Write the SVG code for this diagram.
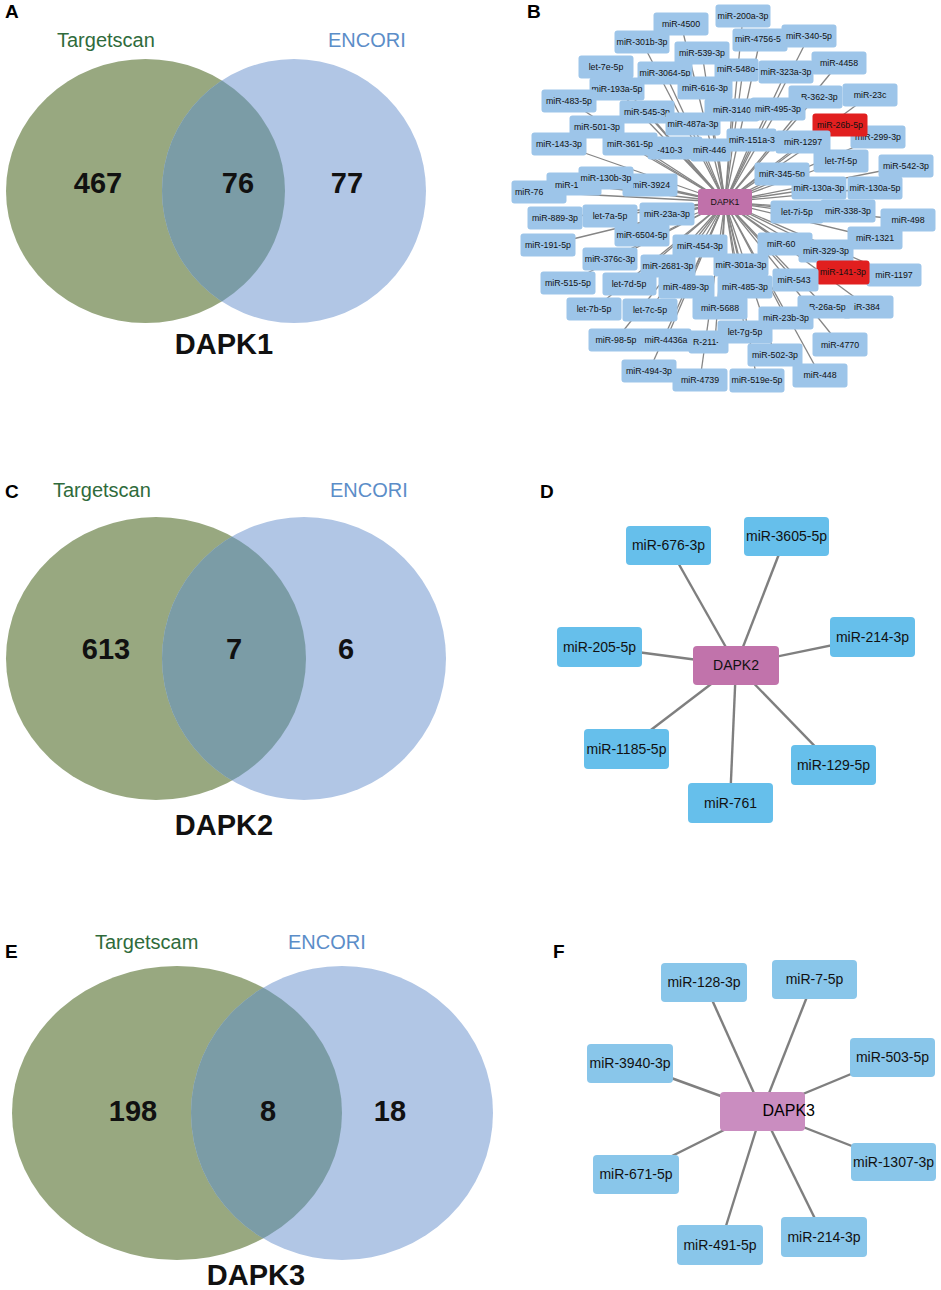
<svg xmlns="http://www.w3.org/2000/svg" width="941" height="1290" viewBox="0 0 941 1290">
<style>
text{font-family:"Liberation Sans",Arial,sans-serif}
.lbl{font-size:19px;font-weight:bold;fill:#000}
.ts{font-size:20px;fill:#2F6B3B}
.en{font-size:20px;fill:#5B8DC8}
.num{font-size:29px;font-weight:bold;fill:#111;text-anchor:middle}
.vl{fill:#98A880}
.vr{fill:#B1C6E5}
.vi{fill:#7B9CA6}
.bn rect{fill:#9DC5E9}
.bn text{font-size:8.8px;fill:#111;text-anchor:middle}
.bn text.s{text-anchor:start}
.bn.red rect{fill:#E11F1F}
.hub rect{fill:#C071AA}
.hub text{font-size:8.8px;fill:#111;text-anchor:middle}
.be line{stroke:#858585;stroke-width:1.3}
.de line{stroke:#7F7F7F;stroke-width:2.4}
.dn rect{fill:#66BFEB}
.fn rect{fill:#89C6EA}
.dn text,.fn text,.h2 text{font-size:14px;fill:#111;text-anchor:middle}
.h2 rect{fill:#C173AB}
.h3 rect{fill:#CA8DC0}
</style>
<defs>
<clipPath id="cA"><ellipse cx="145.5" cy="191" rx="139.5" ry="132"/></clipPath>
<clipPath id="cC"><ellipse cx="156" cy="658.5" rx="150" ry="141.5"/></clipPath>
<clipPath id="cE"><ellipse cx="177" cy="1113" rx="165" ry="147"/></clipPath>
</defs>

<!-- Panel A -->
<g id="vennA">
<text class="lbl" x="5" y="18">A</text>
<text class="ts" x="57" y="47">Targetscan</text>
<text class="en" x="328" y="47">ENCORI</text>
<ellipse class="vl" cx="145.5" cy="191" rx="139.5" ry="132"/>
<ellipse class="vr" cx="294" cy="191" rx="132" ry="132"/>
<ellipse class="vi" cx="294" cy="191" rx="132" ry="132" clip-path="url(#cA)"/>
<text class="num" x="98" y="193">467</text>
<text class="num" x="238" y="193">76</text>
<text class="num" x="347" y="193">77</text>
<text class="num" x="224" y="354">DAPK1</text>
</g>

<!-- Panel C -->
<g id="vennC">
<text class="lbl" x="5" y="498">C</text>
<text class="ts" x="53" y="497">Targetscan</text>
<text class="en" x="330" y="497">ENCORI</text>
<ellipse class="vl" cx="156" cy="658.5" rx="150" ry="141.5"/>
<ellipse class="vr" cx="304" cy="658.5" rx="142" ry="141.5"/>
<ellipse class="vi" cx="304" cy="658.5" rx="142" ry="141.5" clip-path="url(#cC)"/>
<text class="num" x="106" y="659">613</text>
<text class="num" x="234" y="659">7</text>
<text class="num" x="346" y="659">6</text>
<text class="num" x="224" y="835">DAPK2</text>
</g>

<!-- Panel E -->
<g id="vennE">
<text class="lbl" x="5" y="958">E</text>
<text class="ts" x="95" y="949">Targetscam</text>
<text class="en" x="288" y="949">ENCORI</text>
<ellipse class="vl" cx="177" cy="1113" rx="165" ry="147"/>
<ellipse class="vr" cx="342" cy="1113" rx="151" ry="147"/>
<ellipse class="vi" cx="342" cy="1113" rx="151" ry="147" clip-path="url(#cE)"/>
<text class="num" x="133" y="1121">198</text>
<text class="num" x="268" y="1121">8</text>
<text class="num" x="390" y="1121">18</text>
<text class="num" x="256" y="1285">DAPK3</text>
</g>

<!-- Panel B -->
<text class="lbl" x="527" y="18">B</text>
<g id="edgesB" class="be">
<line x1="725" y1="202" x2="681" y2="24"/><line x1="725" y1="202" x2="743" y2="16"/><line x1="725" y1="202" x2="642" y2="42"/><line x1="725" y1="202" x2="702" y2="53"/>
<line x1="725" y1="202" x2="760" y2="40"/><line x1="725" y1="202" x2="809" y2="36"/><line x1="725" y1="202" x2="606" y2="67"/><line x1="725" y1="202" x2="665" y2="73"/>
<line x1="725" y1="202" x2="743" y2="70"/><line x1="725" y1="202" x2="786" y2="72"/><line x1="725" y1="202" x2="839" y2="63"/><line x1="725" y1="202" x2="617" y2="89"/>
<line x1="725" y1="202" x2="705" y2="88"/><line x1="725" y1="202" x2="816" y2="97"/><line x1="725" y1="202" x2="870" y2="95"/><line x1="725" y1="202" x2="569" y2="101"/>
<line x1="725" y1="202" x2="647" y2="112"/><line x1="725" y1="202" x2="732" y2="110"/><line x1="725" y1="202" x2="778" y2="109"/><line x1="725" y1="202" x2="693" y2="124"/>
<line x1="725" y1="202" x2="597" y2="127"/><line x1="725" y1="202" x2="840" y2="125"/><line x1="725" y1="202" x2="559" y2="144"/><line x1="725" y1="202" x2="630" y2="144"/>
<line x1="725" y1="202" x2="675" y2="148"/><line x1="725" y1="202" x2="718" y2="150"/><line x1="725" y1="202" x2="752" y2="139"/><line x1="725" y1="202" x2="803" y2="142"/>
<line x1="725" y1="202" x2="878" y2="137"/><line x1="725" y1="202" x2="841" y2="161"/><line x1="725" y1="202" x2="906" y2="166"/><line x1="725" y1="202" x2="782" y2="174"/>
<line x1="725" y1="202" x2="539" y2="192"/><line x1="725" y1="202" x2="574" y2="184"/><line x1="725" y1="202" x2="606" y2="178"/><line x1="725" y1="202" x2="650" y2="185"/>
<line x1="725" y1="202" x2="819" y2="188"/><line x1="725" y1="202" x2="875" y2="188"/><line x1="725" y1="202" x2="555" y2="218"/><line x1="725" y1="202" x2="610" y2="216"/>
<line x1="725" y1="202" x2="667" y2="214"/><line x1="725" y1="202" x2="797" y2="212"/><line x1="725" y1="202" x2="848" y2="211"/><line x1="725" y1="202" x2="908" y2="220"/>
<line x1="725" y1="202" x2="548" y2="245"/><line x1="725" y1="202" x2="642" y2="235"/><line x1="725" y1="202" x2="700" y2="246"/><line x1="725" y1="202" x2="785" y2="244"/>
<line x1="725" y1="202" x2="875" y2="238"/><line x1="725" y1="202" x2="826" y2="251"/><line x1="725" y1="202" x2="610" y2="259"/><line x1="725" y1="202" x2="668" y2="266"/>
<line x1="725" y1="202" x2="741" y2="265"/><line x1="725" y1="202" x2="843" y2="272"/><line x1="725" y1="202" x2="894" y2="275"/><line x1="725" y1="202" x2="795" y2="280"/>
<line x1="725" y1="202" x2="568" y2="283"/><line x1="725" y1="202" x2="629" y2="284"/><line x1="725" y1="202" x2="686" y2="287"/><line x1="725" y1="202" x2="745" y2="287"/>
<line x1="725" y1="202" x2="594" y2="309"/><line x1="725" y1="202" x2="650" y2="310"/><line x1="725" y1="202" x2="720" y2="308"/><line x1="725" y1="202" x2="786" y2="318"/>
<line x1="725" y1="202" x2="825" y2="307"/><line x1="725" y1="202" x2="868" y2="307"/><line x1="725" y1="202" x2="616" y2="340"/><line x1="725" y1="202" x2="666" y2="340"/>
<line x1="725" y1="202" x2="715" y2="342"/><line x1="725" y1="202" x2="745" y2="332"/><line x1="725" y1="202" x2="840" y2="345"/><line x1="725" y1="202" x2="775" y2="355"/>
<line x1="725" y1="202" x2="649" y2="371"/><line x1="725" y1="202" x2="700" y2="380"/><line x1="725" y1="202" x2="757" y2="380"/><line x1="725" y1="202" x2="820" y2="375"/>
</g>
<g id="nodesB">
<g id="b1" class="bn"><rect x="653.5" y="12.5" width="55" height="23" rx="3"/><text x="681" y="27">miR-4500</text></g>
<g id="b2" class="bn"><rect x="715.5" y="4.5" width="55" height="23" rx="3"/><text x="743" y="19">miR-200a-3p</text></g>
<g id="b3" class="bn"><rect x="614.5" y="30.5" width="55" height="23" rx="3"/><text x="642" y="45">miR-301b-3p</text></g>
<g id="b4" class="bn"><rect x="674.5" y="41.5" width="55" height="23" rx="3"/><text x="702" y="56">miR-539-3p</text></g>
<g id="b5" class="bn"><rect x="732.5" y="28.5" width="55" height="23" rx="3"/><text class="s" x="735" y="42">miR-4756-5</text></g>
<g id="b6" class="bn"><rect x="781.5" y="24.5" width="55" height="23" rx="3"/><text x="809" y="39">miR-340-5p</text></g>
<g id="b7" class="bn"><rect x="578.5" y="55.5" width="55" height="23" rx="3"/><text x="606" y="70">let-7e-5p</text></g>
<g id="b8" class="bn"><rect x="637.5" y="61.5" width="55" height="23" rx="3"/><text x="665" y="76">miR-3064-5p</text></g>
<g id="b11" class="bn"><rect x="811.5" y="51.5" width="55" height="23" rx="3"/><text x="839" y="66">miR-4458</text></g>
<g id="b10" class="bn"><rect x="758.5" y="60.5" width="55" height="23" rx="3"/><text x="786" y="75">miR-323a-3p</text></g>
<g id="b9" class="bn"><rect x="714.5" y="58.5" width="44" height="23" rx="3"/><text class="s" x="717" y="72">miR-548o-</text></g>
<g id="b12" class="bn"><rect x="589.5" y="77.5" width="55" height="23" rx="3"/><text x="617" y="92">miR-193a-5p</text></g>
<g id="b13" class="bn"><rect x="677.5" y="76.5" width="55" height="23" rx="3"/><text x="705" y="91">miR-616-3p</text></g>
<g id="b15" class="bn"><rect x="842.5" y="83.5" width="55" height="23" rx="3"/><text x="870" y="98">miR-23c</text></g>
<g id="b14" class="bn"><rect x="788.5" y="85.5" width="54" height="23" rx="3"/><text class="s" x="801" y="100">R-362-3p</text></g>
<g id="b16" class="bn"><rect x="541.5" y="89.5" width="55" height="23" rx="3"/><text x="569" y="104">miR-483-5p</text></g>
<g id="b17" class="bn"><rect x="619.5" y="100.5" width="55" height="23" rx="3"/><text x="647" y="115">miR-545-3p</text></g>
<g id="b18" class="bn"><rect x="704.5" y="98.5" width="55" height="23" rx="3"/><text x="732" y="113">miR-3140</text></g>
<g id="b19" class="bn"><rect x="750.5" y="97.5" width="55" height="23" rx="3"/><text x="778" y="112">miR-495-3p</text></g>
<g id="b20" class="bn"><rect x="665.5" y="112.5" width="55" height="23" rx="3"/><text x="693" y="127">miR-487a-3p</text></g>
<g id="b21" class="bn"><rect x="569.5" y="115.5" width="55" height="23" rx="3"/><text x="597" y="130">miR-501-3p</text></g>
<g id="b29" class="bn"><rect x="850.5" y="125.5" width="55" height="23" rx="3"/><text x="878" y="140">miR-299-3p</text></g>
<g id="b22" class="bn red"><rect x="812.5" y="113.5" width="55" height="23" rx="3"/><text x="840" y="128">miR-26b-5p</text></g>
<g id="b23" class="bn"><rect x="531.5" y="132.5" width="55" height="23" rx="3"/><text x="559" y="147">miR-143-3p</text></g>
<g id="b25" class="bn"><rect x="647.5" y="136.5" width="55" height="23" rx="3"/><text class="s" x="657" y="153">-410-3</text></g>
<g id="b24" class="bn"><rect x="602.5" y="132.5" width="55" height="23" rx="3"/><text x="630" y="147">miR-361-5p</text></g>
<g id="b26" class="bn"><rect x="690.5" y="138.5" width="40" height="23" rx="3"/><text class="s" x="693" y="153">miR-446</text></g>
<g id="b28" class="bn"><rect x="775.5" y="130.5" width="55" height="23" rx="3"/><text x="803" y="145">miR-1297</text></g>
<g id="b27" class="bn"><rect x="726.5" y="128.5" width="50" height="23" rx="3"/><text class="s" x="729" y="143">miR-151a-3</text></g>
<g id="b30" class="bn"><rect x="813.5" y="149.5" width="55" height="23" rx="3"/><text x="841" y="164">let-7f-5p</text></g>
<g id="b31" class="bn"><rect x="878.5" y="154.5" width="55" height="23" rx="3"/><text x="906" y="169">miR-542-3p</text></g>
<g id="b32" class="bn"><rect x="754.5" y="162.5" width="55" height="23" rx="3"/><text x="782" y="177">miR-345-5p</text></g>
<g id="b33" class="bn"><rect x="511.5" y="180.5" width="55" height="23" rx="3"/><text class="s" x="515" y="195">miR-76</text></g>
<g id="b34" class="bn"><rect x="546.5" y="172.5" width="55" height="23" rx="3"/><text class="s" x="555" y="188">miR-1</text></g>
<g id="b36" class="bn"><rect x="622.5" y="173.5" width="55" height="23" rx="3"/><text x="651" y="188">miR-3924</text></g>
<g id="b35" class="bn"><rect x="578.5" y="166.5" width="55" height="23" rx="3"/><text x="606" y="181">miR-130b-3p</text></g>
<g id="b39" class="bn"><rect x="847.5" y="176.5" width="55" height="23" rx="3"/><text x="875" y="191">miR-130a-5p</text></g>
<g id="b38" class="bn"><rect x="791.5" y="176.5" width="55" height="23" rx="3"/><text x="819" y="191">miR-130a-3p</text></g>
<g id="DAPK1" class="hub"><rect x="698" y="189" width="54" height="26" rx="3"/><text x="725" y="205">DAPK1</text></g>
<g id="b40" class="bn"><rect x="527.5" y="206.5" width="55" height="23" rx="3"/><text x="555" y="221">miR-889-3p</text></g>
<g id="b41" class="bn"><rect x="582.5" y="204.5" width="55" height="23" rx="3"/><text x="610" y="219">let-7a-5p</text></g>
<g id="b42" class="bn"><rect x="639.5" y="202.5" width="55" height="23" rx="3"/><text x="667" y="217">miR-23a-3p</text></g>
<g id="b45" class="bn"><rect x="880.5" y="208.5" width="55" height="23" rx="3"/><text x="908" y="223">miR-498</text></g>
<g id="b44" class="bn"><rect x="820.5" y="199.5" width="55" height="23" rx="3"/><text x="848" y="214">miR-338-3p</text></g>
<g id="b43" class="bn"><rect x="770.5" y="200.5" width="53" height="23" rx="3"/><text x="797" y="215">let-7i-5p</text></g>
<g id="b46" class="bn"><rect x="520.5" y="233.5" width="55" height="23" rx="3"/><text x="548" y="248">miR-191-5p</text></g>
<g id="b47" class="bn"><rect x="614.5" y="223.5" width="55" height="23" rx="3"/><text x="642" y="238">miR-6504-5p</text></g>
<g id="b48" class="bn"><rect x="672.5" y="234.5" width="55" height="23" rx="3"/><text x="700" y="249">miR-454-3p</text></g>
<g id="b50" class="bn"><rect x="847.5" y="226.5" width="55" height="23" rx="3"/><text x="875" y="241">miR-1321</text></g>
<g id="b49" class="bn"><rect x="757.5" y="232.5" width="55" height="23" rx="3"/><text class="s" x="767" y="247">miR-60</text></g>
<g id="b51" class="bn"><rect x="798.5" y="239.5" width="55" height="23" rx="3"/><text x="826" y="254">miR-329-3p</text></g>
<g id="b52" class="bn"><rect x="582.5" y="247.5" width="55" height="23" rx="3"/><text x="610" y="262">miR-376c-3p</text></g>
<g id="b53" class="bn"><rect x="640.5" y="254.5" width="55" height="23" rx="3"/><text x="668" y="269">miR-2681-3p</text></g>
<g id="b54" class="bn"><rect x="713.5" y="253.5" width="55" height="23" rx="3"/><text x="741" y="268">miR-301a-3p</text></g>
<g id="b56" class="bn"><rect x="866.5" y="263.5" width="55" height="23" rx="3"/><text x="894" y="278">miR-1197</text></g>
<g id="b55" class="bn red"><rect x="816.5" y="260.5" width="53" height="24" rx="3"/><text x="843" y="275">miR-141-3p</text></g>
<g id="b57" class="bn"><rect x="772.5" y="268.5" width="46" height="23" rx="3"/><text x="794" y="283">miR-543</text></g>
<g id="b58" class="bn"><rect x="540.5" y="271.5" width="55" height="23" rx="3"/><text x="568" y="286">miR-515-5p</text></g>
<g id="b59" class="bn"><rect x="602.5" y="272.5" width="54" height="23" rx="3"/><text x="629" y="287">let-7d-5p</text></g>
<g id="b60" class="bn"><rect x="658.5" y="275.5" width="56" height="23" rx="3"/><text x="686" y="290">miR-489-3p</text></g>
<g id="b61" class="bn"><rect x="717.5" y="275.5" width="55" height="23" rx="3"/><text x="745" y="290">miR-485-3p</text></g>
<g id="b62" class="bn"><rect x="566.5" y="297.5" width="55" height="23" rx="3"/><text x="594" y="312">let-7b-5p</text></g>
<g id="b63" class="bn"><rect x="622.5" y="298.5" width="55" height="23" rx="3"/><text x="650" y="313">let-7c-5p</text></g>
<g id="b64" class="bn"><rect x="692.5" y="296.5" width="55" height="23" rx="3"/><text x="720" y="311">miR-5688</text></g>
<g id="b67" class="bn"><rect x="842.5" y="295.5" width="51" height="23" rx="3"/><text class="s" x="854" y="310">iR-384</text></g>
<g id="b66" class="bn"><rect x="797.5" y="295.5" width="54" height="23" rx="3"/><text class="s" x="809" y="310">R-26a-5p</text></g>
<g id="b65" class="bn"><rect x="758.5" y="306.5" width="55" height="23" rx="3"/><text x="786" y="321">miR-23b-3p</text></g>
<g id="b70" class="bn"><rect x="688.5" y="330.5" width="40" height="23" rx="3"/><text class="s" x="693" y="345">R-211-</text></g>
<g id="b68" class="bn"><rect x="588.5" y="328.5" width="55" height="23" rx="3"/><text x="616" y="343">miR-98-5p</text></g>
<g id="b69" class="bn"><rect x="639.5" y="328.5" width="52" height="23" rx="3"/><text x="666" y="343">miR-4436a</text></g>
<g id="b71" class="bn"><rect x="717.5" y="320.5" width="55" height="23" rx="3"/><text x="745" y="335">let-7g-5p</text></g>
<g id="b72" class="bn"><rect x="812.5" y="332.5" width="55" height="24" rx="3"/><text x="840" y="348">miR-4770</text></g>
<g id="b73" class="bn"><rect x="747.5" y="343.5" width="55" height="23" rx="3"/><text x="775" y="358">miR-502-3p</text></g>
<g id="b74" class="bn"><rect x="621.5" y="359.5" width="55" height="23" rx="3"/><text x="649" y="374">miR-494-3p</text></g>
<g id="b75" class="bn"><rect x="672.5" y="368.5" width="55" height="23" rx="3"/><text x="700" y="383">miR-4739</text></g>
<g id="b77" class="bn"><rect x="792.5" y="363.5" width="55" height="24" rx="3"/><text x="820" y="378">miR-448</text></g>
<g id="b76" class="bn"><rect x="729.5" y="368.5" width="55" height="24" rx="3"/><text x="757" y="383">miR-519e-5p</text></g>
</g>

<!-- Panel D -->
<text class="lbl" x="540" y="498">D</text>
<g id="edgesD" class="de">
<line x1="736" y1="665" x2="668" y2="545"/><line x1="736" y1="665" x2="786" y2="536"/><line x1="736" y1="665" x2="872" y2="637"/><line x1="736" y1="665" x2="599" y2="647"/>
<line x1="736" y1="665" x2="626" y2="749"/><line x1="736" y1="665" x2="730" y2="803"/><line x1="736" y1="665" x2="833" y2="765"/>
</g>
<g id="DAPK2" class="h2"><rect x="693" y="646" width="86" height="39" rx="4"/><text x="736" y="670">DAPK2</text></g>
<g id="d1" class="dn"><rect x="626" y="526" width="85" height="39" rx="4"/><text x="668.5" y="550">miR-676-3p</text></g>
<g id="d2" class="dn"><rect x="744" y="517" width="85" height="39" rx="4"/><text x="786.5" y="541">miR-3605-5p</text></g>
<g id="d3" class="dn"><rect x="830" y="617" width="85" height="40" rx="4"/><text x="872.5" y="642">miR-214-3p</text></g>
<g id="d4" class="dn"><rect x="557" y="627" width="85" height="40" rx="4"/><text x="599.5" y="652">miR-205-5p</text></g>
<g id="d5" class="dn"><rect x="584" y="729" width="85" height="40" rx="4"/><text x="626.5" y="754">miR-1185-5p</text></g>
<g id="d6" class="dn"><rect x="688" y="783" width="85" height="40" rx="4"/><text x="730.5" y="808">miR-761</text></g>
<g id="d7" class="dn"><rect x="791" y="745" width="85" height="40" rx="4"/><text x="833.5" y="770">miR-129-5p</text></g>

<!-- Panel F -->
<text class="lbl" x="553" y="958">F</text>
<g id="edgesF" class="de">
<line x1="762" y1="1111" x2="704" y2="982"/><line x1="762" y1="1111" x2="814" y2="979"/><line x1="762" y1="1111" x2="630" y2="1063"/><line x1="762" y1="1111" x2="892" y2="1057"/>
<line x1="762" y1="1111" x2="893" y2="1162"/><line x1="762" y1="1111" x2="636" y2="1174"/><line x1="762" y1="1111" x2="720" y2="1245"/><line x1="762" y1="1111" x2="824" y2="1237"/>
</g>
<g id="DAPK3" class="h3"><rect x="720" y="1092" width="85" height="39" rx="4"/><text x="762.5" y="1116">DAPK3</text></g>
<g id="f1" class="fn"><rect x="661" y="963" width="86" height="39" rx="4"/><text x="704" y="987">miR-128-3p</text></g>
<g id="f2" class="fn"><rect x="772" y="960" width="85" height="39" rx="4"/><text x="814.5" y="984">miR-7-5p</text></g>
<g id="f3" class="fn"><rect x="587" y="1044" width="86" height="39" rx="4"/><text x="630" y="1068">miR-3940-3p</text></g>
<g id="f4" class="fn"><rect x="850" y="1038" width="85" height="39" rx="4"/><text x="892.5" y="1062">miR-503-5p</text></g>
<g id="f5" class="fn"><rect x="851" y="1143" width="85" height="38" rx="4"/><text x="893.5" y="1167">miR-1307-3p</text></g>
<g id="f6" class="fn"><rect x="593" y="1155" width="86" height="39" rx="4"/><text x="636" y="1179">miR-671-5p</text></g>
<g id="f7" class="fn"><rect x="677" y="1225" width="86" height="40" rx="4"/><text x="720" y="1250">miR-491-5p</text></g>
<g id="f8" class="fn"><rect x="781" y="1217" width="86" height="40" rx="4"/><text x="824" y="1242">miR-214-3p</text></g>
</svg>
